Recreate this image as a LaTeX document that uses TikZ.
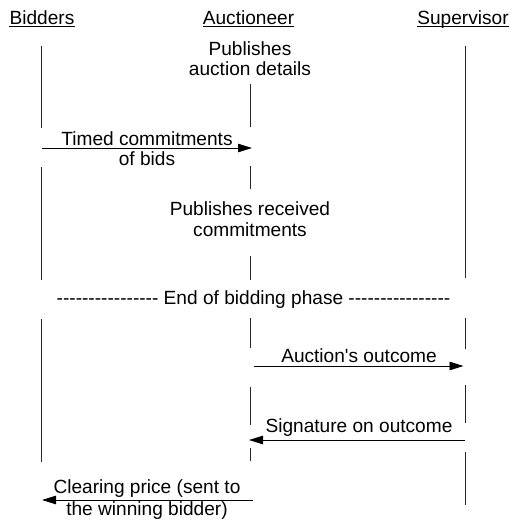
\documentclass[tikz,border=0pt]{standalone}
\usepackage{fontspec}
\setmainfont{Liberation Sans}
\usetikzlibrary{arrows.meta}
\newcommand\hh{-\kern0pt}
\newcommand\hrun{\hh\hh\hh\hh\hh\hh\hh\hh\hh\hh\hh\hh\hh\hh\hh\hh}
\begin{document}
\begin{tikzpicture}[x=1pt,y=-1pt,
  lbl/.style={inner sep=0pt, anchor=base, font=\fontsize{19.1}{21}\selectfont},
  actor/.style={lbl},
  uline/.style={line width=0.9pt},
  life/.style={line width=0.9pt, black!85},
  msg/.style={line width=0.9pt, -{Triangle[length=14pt,width=8.5pt]}}]
\useasboundingbox (0,0) rectangle (510,520);

% actors
\node[actor] (bid) at (42,24) {Bidders};
\node[actor] (auc) at (248.5,24) {Auctioneer};
\node[actor] (sup) at (463,24) {Supervisor};
\foreach \n in {bid,auc,sup}
  \draw[uline] ([yshift=-2.6pt]\n.base west) -- ([yshift=-2.6pt]\n.base east);

% lifelines
\foreach \a/\b in {46/128,167/280,319/462}
  \draw[life] (41.5,\a) -- (41.5,\b);
\foreach \a/\b in {84/127,166/189,256/280,318/348,387/425,448/461}
  \draw[life] (250,\a) -- (250,\b);
\foreach \a/\b in {46/278,318/349,385/423,452/505}
  \draw[life] (465,\a) -- (465,\b);

% actions
\node[lbl] (pub1) at (250,55) {Publishes};
\node[lbl] (pub2) at (250,75) {auction details};
\node[lbl] (rec1) at (250,215) {Publishes received};
\node[lbl] (rec2) at (250,236) {commitments};
\node[lbl] (endb) at (253.5,304) {\hrun{} End of bidding phase \hrun};

% messages
\coordinate (m1s) at (42,148);  \coordinate (m1e) at (252,148);
\coordinate (m2s) at (254,366); \coordinate (m2e) at (463.5,366);
\coordinate (m3s) at (465,440); \coordinate (m3e) at (249,440);
\coordinate (m4s) at (253,500); \coordinate (m4e) at (42,500);
\draw[msg] (m1s) -- (m1e);
\draw[msg] (m2s) -- (m2e);
\draw[msg] (m3s) -- (m3e);
\draw[msg] (m4s) -- (m4e);

\node[lbl] (t1a) at (147,145) {Timed commitments};
\node[lbl] (t1b) at (147,165) {of bids};
\node[lbl] (t2) at (359,362) {Auction\textquotesingle s outcome};
\node[lbl] (t3) at (359,432) {Signature on outcome};
\node[lbl] (t4a) at (147,493) {Clearing price (sent to};
\node[lbl] (t4b) at (147,515) {the winning bidder)};
\end{tikzpicture}
\end{document}
